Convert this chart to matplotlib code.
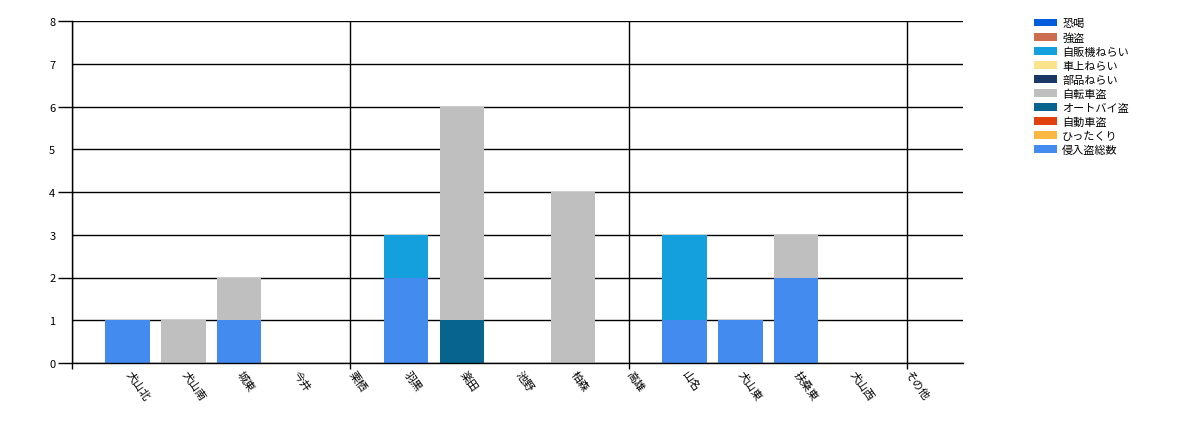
import matplotlib
matplotlib.use('Agg')
import matplotlib.pyplot as plt
from matplotlib.patches import Patch
from matplotlib.ticker import FixedLocator
import numpy as np

plt.rcParams['font.family'] = ['Noto Sans CJK JP', 'DejaVu Sans']

areas = ['犬山北', '犬山南', '城東', '今井', '栗栖', '羽黒', '楽田', '池野',
         '柏森', '高雄', '山名', '犬山東', '扶桑東', '犬山西', 'その他']

# series in legend order (top to bottom)
series = ['恐喝', '強盗', '自販機ねらい', '車上ねらい', '部品ねらい',
          '自転車盗', 'オートバイ盗', '自動車盗', 'ひったくり', '侵入盗総数']
colors = ['#005edc', '#cc6d50', '#149fdd', '#fde38c', '#1b3766',
          '#bfbfbf', '#07648f', '#e0410f', '#fbb742', '#448bef']

kyokatsu   = [0, 0, 0, 0, 0, 0, 0, 0, 0, 0, 0, 0, 0, 0, 0]
goto       = [0, 0, 0, 0, 0, 0, 0, 0, 0, 0, 0, 0, 0, 0, 0]
jihanki    = [0, 0, 0, 0, 0, 1, 0, 0, 0, 0, 2, 0, 0, 0, 0]
shajo      = [0, 0, 0, 0, 0, 0, 0, 0, 0, 0, 0, 0, 0, 0, 0]
buhin      = [0, 0, 0, 0, 0, 0, 0, 0, 0, 0, 0, 0, 0, 0, 0]
jitensha   = [0, 1, 1, 0, 0, 0, 5, 0, 4, 0, 0, 0, 1, 0, 0]
autobai    = [0, 0, 0, 0, 0, 0, 1, 0, 0, 0, 0, 0, 0, 0, 0]
jidosha    = [0, 0, 0, 0, 0, 0, 0, 0, 0, 0, 0, 0, 0, 0, 0]
hittakuri  = [0, 0, 0, 0, 0, 0, 0, 0, 0, 0, 0, 0, 0, 0, 0]
shinnyu    = [1, 0, 1, 0, 0, 2, 0, 0, 0, 0, 1, 1, 2, 0, 0]

values = [kyokatsu, goto, jihanki, shajo, buhin,
          jitensha, autobai, jidosha, hittakuri, shinnyu]

fig = plt.figure(figsize=(11.78, 4.27), dpi=100)
ax = fig.add_axes([72 / 1178, 1 - 364 / 427, (963 - 72) / 1178, (364 - 22) / 427])

x = np.arange(len(areas))
bottom = np.zeros(len(areas))
# stack from the bottom: reverse of legend order
for name, vals, col in reversed(list(zip(series, values, colors))):
    vals = np.array(vals, dtype=float)
    ax.bar(x, vals, 0.8, bottom=bottom, color=col, zorder=2)
    bottom += vals

ax.set_xlim(-1, 15)
ax.set_ylim(0, 8)
ax.xaxis.remove_overlapping_locs = False
ax.yaxis.remove_overlapping_locs = False

# y axis
ax.set_yticks(range(9))
ax.yaxis.set_minor_locator(FixedLocator([0, 2, 4, 6, 8]))
ax.tick_params(axis='y', which='major', length=0, pad=12, labelsize=8)
ax.tick_params(axis='y', which='minor', length=10, width=1, color='black')
ax.grid(axis='y', which='major', color='black', linewidth=1, zorder=1)

# x axis: vertical lines every 5 categories, labels on categories
ax.set_xticks([-1, 4, 9, 14])
ax.set_xticklabels([])
ax.tick_params(axis='x', which='major', length=4, width=1, color='black')
ax.grid(axis='x', which='major', color='black', linewidth=1, zorder=1)
ax.xaxis.set_minor_locator(FixedLocator(x))
ax.set_xticklabels(areas, minor=True)
ax.tick_params(axis='x', which='minor', length=0, pad=6, labelsize=8)
for lbl in ax.get_xticklabels(minor=True):
    lbl.set_rotation(-55)
    lbl.set_rotation_mode('anchor')
    lbl.set_ha('left')
    lbl.set_va('center')

ax.set_axisbelow(True)
for s in ['top', 'right']:
    ax.spines[s].set_visible(False)
ax.spines['left'].set_linewidth(1)
ax.spines['bottom'].set_linewidth(1)

handles = [Patch(facecolor=c, edgecolor='none') for c in colors]
fig.legend(handles, series, loc='upper left', bbox_to_anchor=(1030 / 1178, 1 - 15 / 427),
           frameon=False, fontsize=8, handlelength=2.0, handleheight=0.7,
           labelspacing=0.34, handletextpad=0.5, borderaxespad=0)

fig.savefig('out.png', dpi=100)
